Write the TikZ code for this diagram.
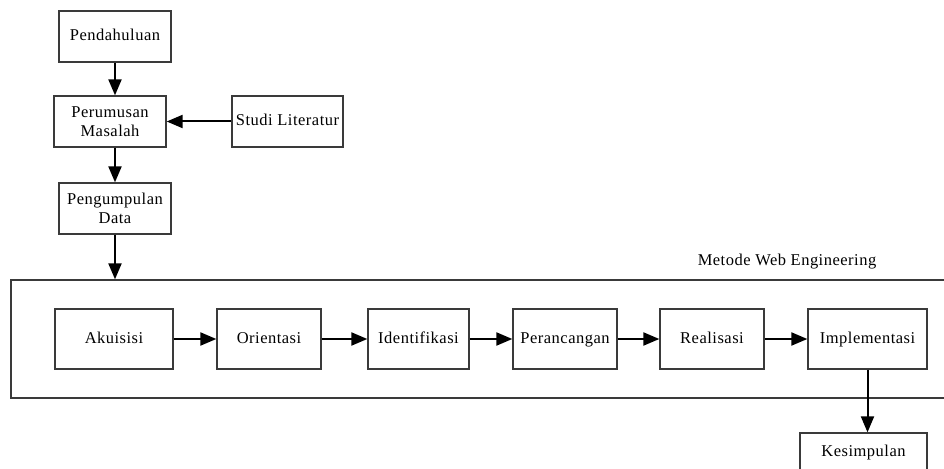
\documentclass[tikz,border=0pt]{standalone}
\usepackage{fontspec}
\setmainfont{Liberation Serif}
\newfontfamily\boxfont[LetterSpace=3]{Liberation Serif}
\usetikzlibrary{arrows.meta}
\definecolor{boxline}{HTML}{3A3A3A}
\tikzset{
  stepbox/.style={draw=boxline, line width=1.3pt, fill=white, inner sep=2pt,
    align=center, font=\boxfont\fontsize{16.5}{19}\selectfont},
  oneline/.style={stepbox, text height=11.5pt, text depth=3.5pt},
  flow/.style={line width=2pt, -{Triangle[length=16pt,width=13pt]}},
}
\begin{document}
\begin{tikzpicture}[x=1pt, y=-1pt]
  \useasboundingbox (0,0) rectangle (944,468);
  \clip (0,0) rectangle (944,468);

  % preparation stages
  \node[oneline, minimum width=112pt, minimum height=51pt] (pend) at (115,36.5) {Pendahuluan};
  \node[stepbox, minimum width=112pt, minimum height=51pt] (perum) at (110,121.5) {Perumusan\\Masalah};
  \node[oneline, minimum width=111pt, minimum height=51pt] (studi) at (287.5,121.5) {Studi Literatur};
  \node[stepbox, minimum width=112pt, minimum height=51pt] (peng) at (115,208.5) {Pengumpulan\\Data};

  % web engineering frame
  \node[draw=boxline, line width=1.3pt, minimum width=959pt, minimum height=118pt] (web) at (490.5,339) {};
  \node[font=\boxfont\fontsize{16.5}{19}\selectfont] (webl) at (787,262) {Metode Web Engineering};

  % web engineering stages
  \node[oneline, minimum width=118pt, minimum height=60pt] (akui) at (114,339) {Akuisisi};
  \node[oneline, minimum width=104pt, minimum height=60pt] (orie) at (269,339) {Orientasi};
  \node[oneline, minimum width=101pt, minimum height=60pt] (iden) at (418.5,339) {Identifikasi};
  \node[oneline, minimum width=104pt, minimum height=60pt] (peran) at (565,339) {Perancangan};
  \node[oneline, minimum width=104pt, minimum height=60pt] (real) at (712,339) {Realisasi};
  \node[oneline, minimum width=119pt, minimum height=60pt] (impl) at (867.5,339) {Implementasi};

  % conclusion
  \node[oneline, minimum width=127pt, minimum height=38pt] (kesi) at (863.5,452) {Kesimpulan};

  % connectors
  \draw[flow] (pend.south) -- (pend.south |- perum.north);
  \draw[flow] (studi.west) -- (perum.east);
  \draw[flow] (peng.north |- perum.south) -- (peng.north);
  \draw[flow] (peng.south) -- (peng.south |- web.north);
  \draw[flow] (akui.east) -- (orie.west);
  \draw[flow] (orie.east) -- (iden.west);
  \draw[flow] (iden.east) -- (peran.west);
  \draw[flow] (peran.east) -- (real.west);
  \draw[flow] (real.east) -- (impl.west);
  \draw[flow] (impl.south) -- (impl.south |- kesi.north);
\end{tikzpicture}
\end{document}
